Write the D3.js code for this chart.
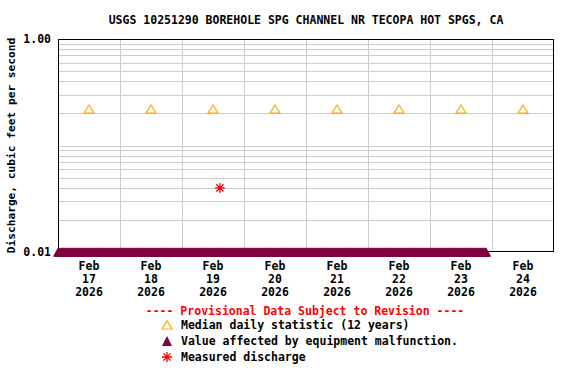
<!DOCTYPE html>
<html>
<head>
<meta charset="utf-8">
<script src="https://cdn.jsdelivr.net/npm/d3@7"></script>
<style>
  body { margin: 0; background: #fff; }
  text { font-family: "DejaVu Sans Mono", monospace; font-weight: bold; }
</style>
</head>
<body>
<script>
// daily medians (12 years), one per day at noon
const medianDays = ["2026-02-17", "2026-02-18", "2026-02-19", "2026-02-20", "2026-02-21", "2026-02-22", "2026-02-23", "2026-02-24"];
const medianValues = [0.22, 0.22, 0.22, 0.22, 0.22, 0.22, 0.22, 0.22];

// measured discharge
const measuredTimes = ["2026-02-19T14:40"];
const measuredValues = [0.04];

// equipment malfunction record (15-minute values, pinned at bottom of scale)
const malfStart = "2026-02-17T00:00";
const malfEnd = "2026-02-23T22:00";
const malfValue = 0.01;

const yTicks = [0.01, 1.00];
const title = "USGS 10251290 BOREHOLE SPG CHANNEL NR TECOPA HOT SPGS, CA";

const W = 576, H = 384;
const m = {left: 58, right: 22, top: 39, bottom: 132};

const svg = d3.select("body").append("svg")
    .attr("width", W)
    .attr("height", H);

const parse = d3.utcParse("%Y-%m-%dT%H:%M");
const parseDay = d3.utcParse("%Y-%m-%d");

const x = d3.scaleUtc()
    .domain([parseDay("2026-02-17"), parseDay("2026-02-25")])
    .range([m.left, W - m.right]);

const y = d3.scaleLog()
    .domain([0.01, 1])
    .range([H - m.bottom, m.top]);

// grid
const minor = [];
[0.01, 0.1].forEach(function(d) {
    for (let i = 2; i <= 9; i++) minor.push(d * i);
});
minor.push(0.1);
svg.append("g").selectAll("line")
    .data(minor)
    .join("line")
    .attr("x1", m.left).attr("x2", W - m.right)
    .attr("y1", d => Math.round(y(d)) + 0.5).attr("y2", d => Math.round(y(d)) + 0.5)
    .attr("stroke", "#cccccc");

const days = d3.utcDay.range(x.domain()[0], x.domain()[1]);
svg.append("g").selectAll("line")
    .data(days.slice(1))
    .join("line")
    .attr("x1", d => Math.round(x(d)) + 0.5).attr("x2", d => Math.round(x(d)) + 0.5)
    .attr("y1", m.top).attr("y2", H - m.bottom)
    .attr("stroke", "#cccccc");

// frame
svg.append("rect")
    .attr("x", m.left + 0.5).attr("y", m.top + 0.5)
    .attr("width", W - m.left - m.right - 1)
    .attr("height", H - m.top - m.bottom - 1)
    .attr("fill", "none")
    .attr("stroke", "#000");

// title
svg.append("text")
    .attr("x", 306).attr("y", 24)
    .attr("text-anchor", "middle")
    .attr("font-size", "11.5px")
    .text(title);

// y axis labels
svg.append("g").selectAll("text")
    .data(yTicks)
    .join("text")
    .attr("x", 51).attr("y", d => y(d) + 4)
    .attr("text-anchor", "end")
    .attr("font-size", "11.5px")
    .text(d => d.toFixed(2));

svg.append("text")
    .attr("transform", "translate(15," + ((m.top + H - m.bottom) / 2) + ") rotate(-90)")
    .attr("text-anchor", "middle")
    .attr("font-size", "11.2px")
    .text("Discharge, cubic feet per second");

// x axis labels at noon
const fmt = [d3.utcFormat("%b"), d3.utcFormat("%d"), d3.utcFormat("%Y")];
const xl = svg.append("g").selectAll("g")
    .data(days)
    .join("g")
    .attr("transform", d => "translate(" + x(d3.utcHour.offset(d, 12)) + ",0)");
fmt.forEach(function(f, i) {
    xl.append("text")
        .attr("y", 270 + i * 13)
        .attr("text-anchor", "middle")
        .attr("font-size", "11.5px")
        .text(d => f(d));
});

// malfunction triangles
const maroon = "#800040";
const tri = function(cx, cy, w, h) {
    return "M" + (cx - w / 2) + "," + (cy + h / 2) + "L" + cx + "," + (cy - h / 2) + "L" + (cx + w / 2) + "," + (cy + h / 2) + "Z";
};
const malfTimes = d3.utcMinute.every(15).range(parse(malfStart), parse(malfEnd));
svg.append("g").selectAll("path")
    .data(malfTimes)
    .join("path")
    .attr("d", d => tri(x(d), y(malfValue), 10, 9))
    .attr("fill", maroon);

// medians
const orange = "#ffa500";
svg.append("g").selectAll("path")
    .data(medianDays.map((d, i) => ({t: d3.utcHour.offset(parseDay(d), 12), v: medianValues[i]})))
    .join("path")
    .attr("d", d => tri(x(d.t), y(d.v), 10, 8))
    .attr("fill", "none")
    .attr("stroke", orange)
    .attr("stroke-width", 1.2);

// measured discharge asterisk
const star = function(cx, cy, r) {
    const a = r * 0.72;
    return "M" + (cx - r) + "," + cy + "H" + (cx + r) +
        "M" + cx + "," + (cy - r) + "V" + (cy + r) +
        "M" + (cx - a) + "," + (cy - a) + "L" + (cx + a) + "," + (cy + a) +
        "M" + (cx - a) + "," + (cy + a) + "L" + (cx + a) + "," + (cy - a);
};
svg.append("g").selectAll("path")
    .data(measuredTimes.map((d, i) => ({t: parse(d), v: measuredValues[i]})))
    .join("path")
    .attr("d", d => star(x(d.t), y(d.v), 5))
    .attr("stroke", "#ff0000")
    .attr("stroke-width", 1.3);

// legend
svg.append("text")
    .attr("x", 305).attr("y", 315)
    .attr("text-anchor", "middle")
    .attr("font-size", "11.5px")
    .attr("fill", "#ff0000")
    .text("---- Provisional Data Subject to Revision ----");

const legend = [
    {label: "Median daily statistic (12 years)", kind: "median"},
    {label: "Value affected by equipment malfunction.", kind: "malf"},
    {label: "Measured discharge", kind: "meas"}
];
legend.forEach(function(d, i) {
    const cy = 325 + i * 16;
    if (d.kind === "median") {
        svg.append("path").attr("d", tri(167, cy, 10, 8)).attr("fill", "none").attr("stroke", orange).attr("stroke-width", 1.2);
    } else if (d.kind === "malf") {
        svg.append("path").attr("d", tri(167, cy, 10, 10)).attr("fill", maroon);
    } else {
        svg.append("path").attr("d", star(167, cy, 5)).attr("stroke", "#ff0000").attr("stroke-width", 1.3);
    }
    svg.append("text")
        .attr("x", 181).attr("y", cy + 4)
        .attr("font-size", "11.5px")
        .text(d.label);
});
</script>
</body>
</html>
